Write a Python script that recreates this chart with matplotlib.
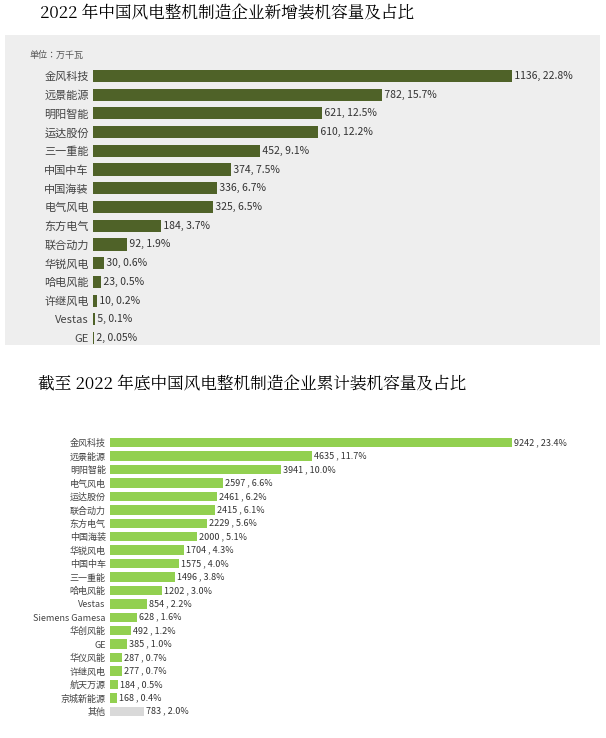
import matplotlib
matplotlib.use("Agg")
import matplotlib.pyplot as plt
from matplotlib.patches import Rectangle
from matplotlib import font_manager as fm

cjk = [f.name for f in fm.fontManager.ttflist if "CJK" in f.name]
pref = [n for n in ["Noto Sans CJK SC", "Noto Sans CJK JP", "Noto Sans CJK TC", "Noto Sans CJK KR"] if n in cjk] or cjk
plt.rcParams["font.family"] = (pref[:1] if pref else []) + ["DejaVu Sans"]
serif = [f.name for f in fm.fontManager.ttflist if "Serif CJK" in f.name]
title_family = (serif[:1] or pref[:1]) + ["DejaVu Sans"]

top_names = ["金风科技","远景能源","明阳智能","运达股份","三一重能","中国中车","中国海装","电气风电",
             "东方电气","联合动力","华锐风电","哈电风能","许继风电","Vestas","GE"]
top_vals = [1136,782,621,610,452,374,336,325,184,92,30,23,10,5,2]
top_pct = ["22.8%","15.7%","12.5%","12.2%","9.1%","7.5%","6.7%","6.5%","3.7%","1.9%","0.6%","0.5%","0.2%","0.1%","0.05%"]

bot_names = ["金风科技","远景能源","明阳智能","电气风电","运达股份","联合动力","东方电气","中国海装","华锐风电",
             "中国中车","三一重能","哈电风能","Vestas","Siemens Gamesa","华创风能","GE","华仪风能","许继风电",
             "航天万源","京城新能源","其他"]
bot_vals = [9242,4635,3941,2597,2461,2415,2229,2000,1704,1575,1496,1202,854,628,492,385,287,277,184,168,783]
bot_pct = ["23.4%","11.7%","10.0%","6.6%","6.2%","6.1%","5.6%","5.1%","4.3%","4.0%","3.8%","3.0%","2.2%","1.6%","1.2%",
           "1.0%","0.7%","0.7%","0.5%","0.4%","2.0%"]

W, H = 606, 738
fig = plt.figure(figsize=(W/100, H/100), dpi=100)
fig.patch.set_facecolor("white")

def box(x0, y0, x1, y1):
    return [x0/W, 1-y1/H, (x1-x0)/W, (y1-y0)/H]

bg = fig.add_axes(box(5, 35, 600, 345), zorder=-5)
bg.set_facecolor("#eeeeee")
bg.set_xticks([]); bg.set_yticks([])
for s in bg.spines.values():
    s.set_visible(False)

fig.text(40/W, 1-14/H, "2022 年中国风电整机制造企业新增装机容量及占比", fontsize=12, va="center",
         family=title_family)
fig.text(30/W, 1-55/H, "单位：万千瓦", fontsize=6.5, va="center", color="#555555")
fig.text(38/W, 1-385/H, "截至 2022 年底中国风电整机制造企业累计装机容量及占比", fontsize=12, va="center",
         family=title_family)

def draw(ax, names, vals, pct, colors, h, fs, lfs, sep):
    n = len(names)
    y = list(range(n))
    ax.barh(y, vals, height=h, color=colors)
    ax.set_ylim(n-0.5, -0.5)
    ax.set_yticks(y)
    ax.set_yticklabels(names, fontsize=fs, color="#444444")
    ax.tick_params(length=0, pad=3)
    ax.set_xticks([])
    for s in ax.spines.values():
        s.set_visible(False)
    ax.patch.set_alpha(0)
    for i, (v, p) in enumerate(zip(vals, pct)):
        ax.text(v, i, f" {v}{sep}{p}", va="center", ha="left", fontsize=lfs, color="#333333")

ax1 = fig.add_axes(box(93, 66.6, 600, 347.4))
ax1.set_xlim(0, 1374)
draw(ax1, top_names, top_vals, top_pct, "#4f6228", 0.65, 8, 7.5, ", ")

ax2 = fig.add_axes(box(110, 436, 600, 718))
ax2.set_xlim(0, 11265)
cols = ["#92d050"]*(len(bot_vals)-1) + ["#d9d9d9"]
draw(ax2, bot_names, bot_vals, bot_pct, cols, 0.7, 6.5, 6.5, " , ")

fig.savefig("out.png", dpi=100)
